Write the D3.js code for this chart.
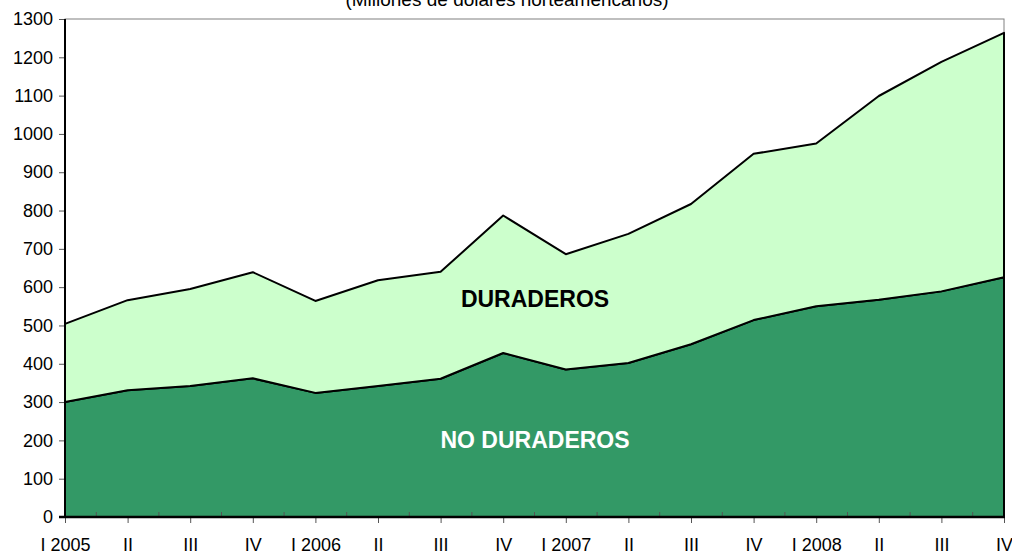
<!DOCTYPE html>
<html>
<head>
<meta charset="utf-8">
<script src="https://cdn.jsdelivr.net/npm/d3@7"></script>
<style>
  body { margin: 0; background: #fff; }
  text { font-family: Arial, "Liberation Sans", sans-serif; }
</style>
</head>
<body>
<div class="board"></div>
<script>
// ============================
// DATA
// ============================
var quarters = ['I 2005', 'II', 'III', 'IV', 'I 2006', 'II', 'III', 'IV',
                'I 2007', 'II', 'III', 'IV', 'I 2008', 'II', 'III', 'IV'];

var noDuraderos = [300, 331, 342, 362, 324, 342, 361, 428, 385, 402, 451, 514, 550, 567, 589, 626];

var duraderos = [204, 235, 253, 277, 240, 276, 279, 359, 301, 337, 366, 434, 425, 532, 599, 638];

var yTicks = [0, 100, 200, 300, 400, 500, 600, 700, 800, 900, 1000, 1100, 1200, 1300];

var subtitle = '(Millones de dólares norteamericanos)';

// ============================
// CONTAINER
// ============================
var width = 1012, height = 554;
var plotLeft = 65, plotRight = 1004, plotTop = 19, plotBottom = 517;

var svg = d3.select('.board').append('svg')
            .attr('width', width)
            .attr('height', height);

var x = d3.scalePoint()
          .domain(d3.range(quarters.length))
          .range([plotLeft, plotRight]);

var y = d3.scaleLinear()
          .domain([0, 1300])
          .range([plotBottom, plotTop]);

var rows = quarters.map(function(q, i) {
  return { i: i, noDur: noDuraderos[i], dur: duraderos[i] };
});

var stack = d3.stack().keys(['noDur', 'dur']);
var layers = stack(rows);

var colors = { noDur: '#339966', dur: '#ccffcc' };

// title (cut off at top, like the source)
svg.append('text')
   .attr('x', 507)
   .attr('y', 6)
   .attr('text-anchor', 'middle')
   .style('font-size', '19px')
   .text(subtitle);

// plot frame (grey top + right)
svg.append('rect')
   .attr('x', plotLeft)
   .attr('y', plotTop)
   .attr('width', plotRight - plotLeft)
   .attr('height', plotBottom - plotTop)
   .attr('fill', 'none')
   .attr('stroke', '#808080')
   .attr('stroke-width', 1);

// ============================
// AREAS
// ============================
var area = d3.area()
             .x(d => x(d.data.i))
             .y0(d => y(d[0]))
             .y1(d => y(d[1]));

svg.selectAll('path.layer')
   .data(layers)
   .enter().append('path')
   .attr('class', 'layer')
   .attr('d', area)
   .attr('fill', d => colors[d.key])
   .attr('stroke', '#000')
   .attr('stroke-width', 2)
   .attr('stroke-linejoin', 'round');

// ============================
// AXES
// ============================
var yAxis = d3.axisLeft(y)
              .tickValues(yTicks)
              .tickFormat(d3.format('d'))
              .tickSize(6)
              .tickPadding(6);

var gy = svg.append('g')
            .attr('transform', 'translate(' + plotLeft + ',0)')
            .call(yAxis);
gy.select('.domain').remove();
gy.selectAll('.tick line').attr('stroke', '#555');
gy.selectAll('.tick text')
  .attr('fill', '#000')
  .style('font-size', '18px')
  .style('font-family', 'Arial, "Liberation Sans", sans-serif');

var xAxis = d3.axisBottom(x)
              .tickFormat(i => quarters[i])
              .tickSize(6)
              .tickPadding(15);

var gx = svg.append('g')
            .attr('transform', 'translate(0,' + plotBottom + ')')
            .call(xAxis);
gx.select('.domain').remove();
gx.selectAll('.tick line').attr('stroke', '#555');
gx.selectAll('.tick text')
  .attr('fill', '#000')
  .style('font-size', '18px')
  .style('font-family', 'Arial, "Liberation Sans", sans-serif');

// minor ticks between categories, pointing up
var mids = d3.range(quarters.length - 1).map(i => (x(i) + x(i + 1)) / 2);
svg.selectAll('line.minor')
   .data(mids)
   .enter().append('line')
   .attr('class', 'minor')
   .attr('x1', d => d).attr('x2', d => d)
   .attr('y1', plotBottom).attr('y2', plotBottom - 5)
   .attr('stroke', '#555');

// axis lines
svg.append('line')
   .attr('x1', plotLeft).attr('x2', plotLeft)
   .attr('y1', plotTop).attr('y2', plotBottom)
   .attr('stroke', '#000').attr('stroke-width', 2);

svg.append('line')
   .attr('x1', plotLeft - 6).attr('x2', plotRight + 1)
   .attr('y1', plotBottom).attr('y2', plotBottom)
   .attr('stroke', '#000').attr('stroke-width', 2.5);

// ============================
// LABELS
// ============================
svg.append('text')
   .attr('x', 535)
   .attr('y', 307)
   .attr('text-anchor', 'middle')
   .style('font-size', '23px')
   .style('font-weight', 'bold')
   .attr('fill', '#000')
   .text('DURADEROS');

svg.append('text')
   .attr('x', 535)
   .attr('y', 448)
   .attr('text-anchor', 'middle')
   .style('font-size', '23px')
   .style('font-weight', 'bold')
   .attr('fill', '#fff')
   .text('NO DURADEROS');
</script>
</body>
</html>
